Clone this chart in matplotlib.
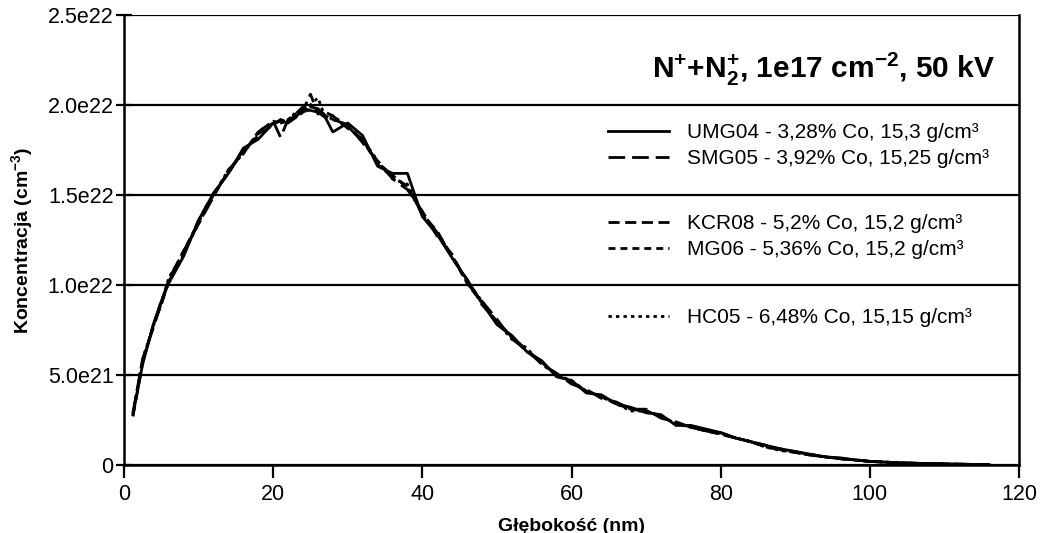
import matplotlib
matplotlib.use("Agg")
import matplotlib.pyplot as plt
import numpy as np

plt.rcParams['font.family'] = ['Liberation Sans', 'DejaVu Sans']
plt.rcParams['mathtext.fontset'] = 'custom'
plt.rcParams['mathtext.rm'] = 'Liberation Sans'
plt.rcParams['mathtext.bf'] = 'Liberation Sans:bold'
plt.rcParams['mathtext.it'] = 'Liberation Sans:italic'

# Głębokość [nm]
depth = [1.2, 2.5, 4, 5, 6, 8, 10, 12, 14, 16, 18, 20, 21, 22, 23, 24, 25, 26, 27, 28,
         30, 32, 34, 36, 38, 40, 42, 44, 46, 48, 50, 52, 54, 56, 58, 60, 62, 64, 66, 68,
         70, 72, 74, 76, 78, 80, 82, 84, 86, 88, 90, 92, 94, 96, 98, 100, 104, 108, 112, 116]
# Koncentracja [1e21 cm^-3]
umg04 = [2.8, 5.6, 7.9, 9.1, 10.1, 11.6, 13.6, 15.1, 16.2, 17.6, 18.1, 19.0, 19.1, 19.0, 19.3, 19.8, 19.7, 19.6, 19.3, 18.5,
         19.0, 18.3, 16.6, 16.2, 16.2, 13.8, 12.8, 11.5, 10.3, 9.0, 7.8, 7.2, 6.3, 5.8, 4.9, 4.7, 4.0, 3.9, 3.4, 3.2,
         2.9, 2.8, 2.2, 2.2, 2.0, 1.8, 1.5, 1.3, 1.1, 0.9, 0.75, 0.6, 0.45, 0.4, 0.28, 0.2, 0.12, 0.08, 0.04, 0.02]
smg05 = [2.9, 5.9, 7.7, 9.0, 10.3, 11.9, 13.4, 14.9, 16.4, 17.3, 18.5, 19.1, 18.2, 19.2, 19.5, 19.9, 19.6, 19.8, 19.4, 19.2,
         18.9, 17.9, 16.9, 15.9, 15.3, 14.1, 12.7, 11.7, 10.1, 9.1, 8.1, 7.0, 6.4, 5.6, 5.1, 4.5, 4.2, 3.7, 3.5, 3.1,
         3.1, 2.6, 2.4, 2.1, 1.9, 1.8, 1.5, 1.3, 1.0, 0.9, 0.7, 0.6, 0.45, 0.35, 0.3, 0.2, 0.12, 0.07, 0.05, 0.02]
kcr08 = [2.7, 5.7, 7.9, 8.9, 10.2, 11.7, 13.6, 15.1, 16.2, 17.5, 18.3, 18.9, 19.2, 19.0, 19.5, 19.7, 20.6, 19.5, 19.6, 19.4,
         18.7, 18.1, 16.7, 16.0, 15.5, 13.9, 13.0, 11.5, 10.3, 8.9, 8.0, 7.1, 6.3, 5.7, 5.0, 4.6, 4.1, 3.8, 3.4, 3.1,
         3.0, 2.7, 2.3, 2.1, 1.9, 1.7, 1.5, 1.3, 1.1, 0.85, 0.75, 0.55, 0.45, 0.35, 0.28, 0.2, 0.12, 0.07, 0.04, 0.02]
mg06 = [2.8, 5.8, 7.8, 9.1, 10.2, 11.9, 13.5, 15.0, 16.3, 17.4, 18.4, 19.0, 19.1, 19.2, 19.3, 19.6, 19.9, 19.8, 19.4, 19.2,
        18.8, 18.0, 16.8, 16.1, 15.4, 14.0, 12.9, 11.6, 10.1, 9.0, 7.9, 7.1, 6.4, 5.7, 5.0, 4.6, 4.1, 3.8, 3.4, 3.1,
        3.0, 2.7, 2.3, 2.1, 1.9, 1.75, 1.5, 1.3, 1.0, 0.85, 0.7, 0.55, 0.45, 0.35, 0.28, 0.2, 0.12, 0.07, 0.04, 0.02]
hc05 = [2.9, 5.9, 7.8, 9.0, 10.4, 11.8, 13.4, 15.0, 16.4, 17.3, 18.5, 19.1, 19.0, 19.1, 19.6, 19.5, 20.0, 20.4, 19.3, 19.4,
        18.8, 18.1, 16.9, 15.9, 15.6, 13.9, 12.9, 11.6, 10.2, 9.1, 7.9, 7.0, 6.5, 5.6, 5.0, 4.7, 4.1, 3.8, 3.4, 3.0,
        3.0, 2.7, 2.3, 2.1, 1.9, 1.75, 1.5, 1.3, 1.0, 0.8, 0.7, 0.55, 0.45, 0.35, 0.28, 0.2, 0.12, 0.07, 0.04, 0.02]

labels = ["UMG04 - 3,28% Co, 15,3 g/cm³", "SMG05 - 3,92% Co, 15,25 g/cm³",
          "KCR08 - 5,2% Co, 15,2 g/cm³", "MG06 - 5,36% Co, 15,2 g/cm³",
          "HC05 - 6,48% Co, 15,15 g/cm³"]
styles = ['-', (0, (6, 2.5)), (0, (4, 2)), (0, (2.5, 1.8)), (0, (1.2, 1.5))]
yticks = [0, 5e21, 1e22, 1.5e22, 2e22, 2.5e22]
yticklabels = ["0", "5.0e21", "1.0e22", "1.5e22", "2.0e22", "2.5e22"]
leg_y = [0.738, 0.680, 0.536, 0.478, 0.327]  # pozycje wpisów legendy (ułamek osi)

fig = plt.figure(figsize=(10.46, 5.33), dpi=100)
ax = fig.add_axes([124/1046, 68/533, 895/1046, 450/533])
x = np.array(depth)
series = [umg04, smg05, kcr08, mg06, hc05]
lines = []
for s, ls, lab in zip(series, styles, labels):
    l, = ax.plot(x, np.array(s)*1e21, color='black', lw=2.0, linestyle=ls, label=lab)
    lines.append(l)

ax.set_xlim(0, 120); ax.set_ylim(0, 2.5e22)
ax.set_xticks(np.arange(0, 121, 20))
ax.set_yticks(yticks); ax.set_yticklabels(yticklabels)
ax.yaxis.grid(True, color='black', lw=1.6)
ax.set_axisbelow(True)
ax.spines['top'].set_visible(False)
for sp in ['left', 'bottom', 'right']:
    ax.spines[sp].set_linewidth(1.8)
ax.tick_params(axis='both', labelsize=15.5, colors='black', width=1.6)
ax.tick_params(axis='y', direction='inout', length=11, pad=2)
ax.tick_params(axis='x', direction='out', length=9, pad=5)
ax.set_xlabel("Głębokość (nm)", fontsize=14, fontweight='bold', labelpad=9)
ax.set_ylabel(r"Koncentracja (cm$^{\mathbf{-3}}$)", fontsize=14, fontweight='bold', labelpad=9)

ax.text(0.973, 0.878, r"N$^{\mathbf{+}}$+N$_{\mathbf{2}}^{\mathbf{+}}$, 1e17 cm$^{\mathbf{-2}}$, 50 kV",
        transform=ax.transAxes, ha='right', va='center', fontsize=21.5, fontweight='bold')

legkw = dict(frameon=False, fontsize=15, handlelength=2.9, handletextpad=0.87,
             borderpad=0, borderaxespad=0, loc='center left')
for i, (l, yy) in enumerate(zip(lines, leg_y)):
    g = ax.legend(handles=[l], bbox_to_anchor=(0.541, yy), **legkw)
    if i < len(lines) - 1:
        ax.add_artist(g)

fig.savefig("out.png", dpi=100)
